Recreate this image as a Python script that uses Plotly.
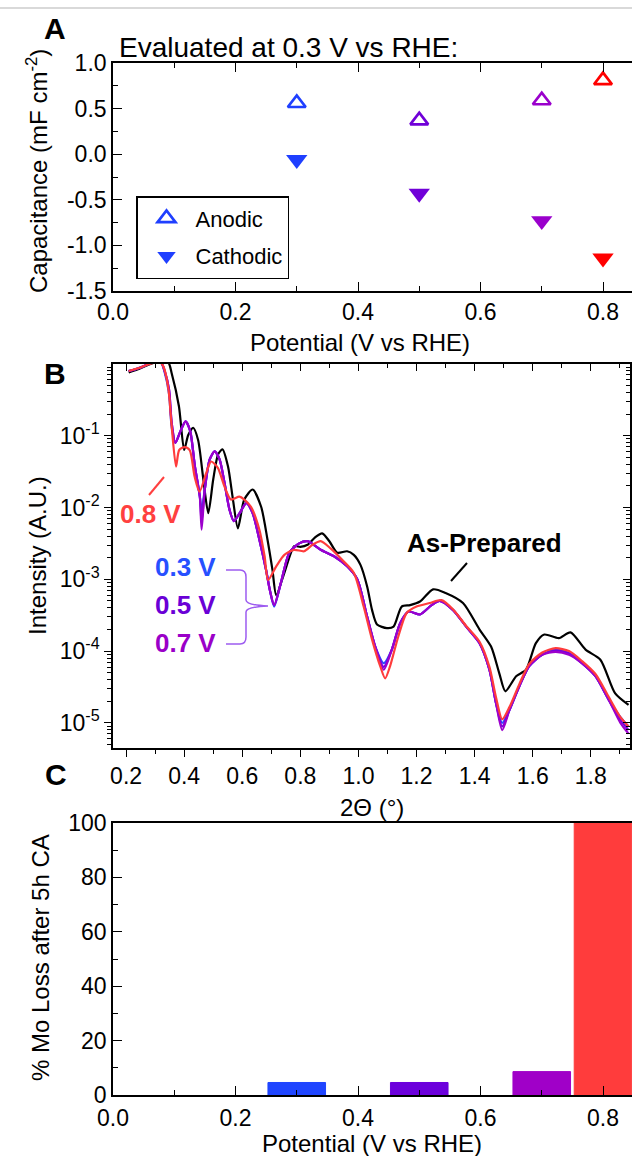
import plotly.graph_objects as go

W, H = 632, 1156
FONT = "Liberation Sans, Arial, sans-serif"

# ---------------- Panel A data ----------------
potential_v = [0.3, 0.5, 0.7, 0.8]
anodic_cap = [0.56, 0.37, 0.59, 0.81]
cathodic_cap = [-0.06, -0.43, -0.73, -1.14]
point_colors = ["#1f3fff", "#7000d8", "#9a00cc", "#ff0000"]

# ---------------- Panel B data (2-theta in deg, log10 intensity) ----------------
tt_asprep = [0.209, 0.25, 0.30, 0.345, 0.357, 0.382, 0.400, 0.414, 0.431, 0.448, 0.466, 0.483,
             0.500, 0.517, 0.532, 0.551, 0.568, 0.585, 0.607, 0.636, 0.665, 0.687, 0.704, 0.717,
             0.745, 0.779, 0.800, 0.825, 0.850, 0.875, 0.900, 0.927, 0.961, 0.984, 1.007, 1.030,
             1.047, 1.064, 1.098, 1.121, 1.149, 1.178, 1.212, 1.257, 1.300, 1.360, 1.417, 1.457,
             1.485, 1.506, 1.543, 1.577, 1.611, 1.640, 1.690, 1.730, 1.782, 1.833, 1.884, 1.930]
logI_asprep = [-0.12, -0.06, 0.02, 0.02, -0.13, -0.59, -1.20, -0.99, -0.89, -1.06, -1.61, -2.08,
               -1.61, -1.26, -1.19, -1.43, -1.89, -2.29, -1.89, -1.75, -1.99, -2.45, -2.87, -3.22,
               -2.91, -2.54, -2.55, -2.52, -2.42, -2.36, -2.47, -2.63, -2.61, -2.66, -2.80, -3.10,
               -3.43, -3.63, -3.68, -3.66, -3.38, -3.36, -3.31, -3.14, -3.19, -3.33, -3.70, -3.94,
               -4.31, -4.56, -4.35, -4.26, -3.89, -3.77, -3.82, -3.74, -3.98, -4.12, -4.59, -4.75]

tt_cycled = [0.209, 0.25, 0.29, 0.32, 0.333, 0.348, 0.357, 0.370, 0.387, 0.405, 0.421, 0.437,
             0.454, 0.460, 0.471, 0.488, 0.505, 0.522, 0.539, 0.556, 0.571, 0.591, 0.614, 0.636,
             0.659, 0.682, 0.695, 0.710, 0.733, 0.762, 0.796, 0.825, 0.870, 0.916, 0.961, 0.996,
             1.030, 1.058, 1.087, 1.115, 1.144, 1.173, 1.212, 1.252, 1.280, 1.326, 1.371, 1.417,
             1.451, 1.474, 1.495, 1.520, 1.554, 1.588, 1.633, 1.679, 1.725, 1.770, 1.816, 1.862,
             1.902, 1.930]
logI_03V = [-0.10, -0.05, 0.02, 0.02, -0.12, -0.42, -0.88, -1.10, -0.94, -0.80, -0.94, -1.43,
            -1.85, -2.05, -1.75, -1.33, -1.22, -1.33, -1.66, -2.03, -2.19, -2.08, -1.94, -2.08,
            -2.45, -2.87, -3.15, -3.38, -3.05, -2.63, -2.50, -2.47, -2.59, -2.68, -2.82, -3.00,
            -3.52, -3.94, -4.17, -3.98, -3.61, -3.45, -3.49, -3.36, -3.30, -3.43, -3.66, -3.89,
            -4.26, -4.73, -5.00, -4.82, -4.49, -4.21, -4.05, -3.98, -4.03, -4.17, -4.35, -4.68,
            -4.92, -5.05]
logI_05V = [-0.10, -0.05, 0.02, 0.02, -0.10, -0.36, -0.82, -1.10, -0.94, -0.80, -0.94, -1.43,
            -1.85, -2.20, -1.75, -1.33, -1.22, -1.33, -1.66, -2.03, -2.19, -2.08, -1.94, -2.08,
            -2.45, -2.87, -3.15, -3.36, -3.05, -2.63, -2.50, -2.47, -2.59, -2.68, -2.82, -3.00,
            -3.52, -3.94, -4.22, -3.98, -3.61, -3.45, -3.49, -3.36, -3.30, -3.43, -3.66, -3.89,
            -4.26, -4.73, -5.05, -4.82, -4.49, -4.21, -4.05, -3.99, -4.03, -4.17, -4.35, -4.68,
            -4.96, -5.10]
logI_07V = [-0.10, -0.05, 0.02, 0.02, -0.10, -0.36, -0.82, -1.10, -0.94, -0.80, -0.94, -1.43,
            -1.85, -2.31, -1.75, -1.33, -1.22, -1.33, -1.66, -2.03, -2.19, -2.08, -1.94, -2.08,
            -2.45, -2.87, -3.15, -3.36, -3.05, -2.63, -2.50, -2.47, -2.59, -2.68, -2.82, -3.00,
            -3.52, -3.94, -4.26, -3.98, -3.61, -3.45, -3.49, -3.36, -3.30, -3.43, -3.66, -3.89,
            -4.26, -4.73, -5.10, -4.82, -4.49, -4.21, -4.05, -4.01, -4.05, -4.17, -4.35, -4.68,
            -5.00, -5.15]

tt_08V = [0.209, 0.25, 0.29, 0.32, 0.330, 0.346, 0.357, 0.372, 0.383, 0.402, 0.419, 0.436,
          0.453, 0.476, 0.493, 0.516, 0.539, 0.561, 0.590, 0.607, 0.630, 0.659, 0.677, 0.689,
          0.717, 0.745, 0.779, 0.813, 0.842, 0.870, 0.904, 0.944, 0.984, 1.018, 1.047, 1.075,
          1.092, 1.109, 1.137, 1.166, 1.200, 1.246, 1.286, 1.326, 1.371, 1.417, 1.451, 1.474,
          1.495, 1.520, 1.554, 1.588, 1.633, 1.679, 1.725, 1.770, 1.816, 1.862, 1.902, 1.930]
logI_08V = [-0.10, -0.05, 0.01, 0.01, -0.05, -0.36, -0.87, -1.43, -1.20, -1.16, -1.20, -1.57,
            -1.78, -1.52, -1.36, -1.45, -1.71, -1.89, -1.85, -1.89, -1.99, -2.31, -2.68, -3.01,
            -2.82, -2.66, -2.59, -2.61, -2.52, -2.47, -2.57, -2.73, -2.91, -3.38, -3.84, -4.21,
            -4.38, -4.21, -3.80, -3.47, -3.38, -3.33, -3.29, -3.42, -3.65, -3.87, -4.22, -4.65,
            -4.95, -4.78, -4.46, -4.18, -4.02, -3.96, -4.00, -4.14, -4.32, -4.64, -4.92, -5.05]

# ---------------- Panel C data ----------------
mo_loss_pct = [4.6, 4.6, 8.6, 100]
bar_colors = ["#1f45ff", "#6c00dc", "#a000c8", "#ff3c3c"]

# y-axis tick labels (panel B)
log_tick_vals = [1e-5, 1e-4, 1e-3, 1e-2, 1e-1]
log_tick_text = ["10<sup>-5</sup>", "10<sup>-4</sup>", "10<sup>-3</sup>", "10<sup>-2</sup>", "10<sup>-1</sup>"]

# ---------------- helpers (pixel -> paper) ----------------
def px(x):
    return x / W

def py(y):
    return 1 - y / H

XDOM = [px(113), px(630)]
XDOM_FULL = [px(113), 1.0]
A_DOM = [py(291), py(63)]
B_DOM = [py(748), py(364)]
C_DOM = [py(1095), py(823)]

fig = go.Figure()

# Panel A
fig.add_trace(go.Scatter(
    x=potential_v, y=anodic_cap, mode="markers", name="Anodic",
    marker=dict(symbol="triangle-up-open", size=15.5, color=point_colors, line=dict(width=2.7)),
    xaxis="x", yaxis="y", legendgroup="a"))
fig.add_trace(go.Scatter(
    x=potential_v, y=cathodic_cap, mode="markers", name="Cathodic",
    marker=dict(symbol="triangle-down", size=18.5, color=point_colors, line=dict(width=0)),
    xaxis="x", yaxis="y", legendgroup="c"))

# Panel B
def I(vals):
    return [10 ** v for v in vals]

curves = [
    (tt_asprep, logI_asprep, "#000000", "As-Prepared"),
    (tt_cycled, logI_03V, "#2a4bff", "0.3 V"),
    (tt_cycled, logI_05V, "#7400e0", "0.5 V"),
    (tt_cycled, logI_07V, "#9c00cc", "0.7 V"),
    (tt_08V, logI_08V, "#ff3c3c", "0.8 V"),
]
for xs, ys, col, nm in curves:
    fig.add_trace(go.Scatter(x=xs, y=I(ys), mode="lines", name=nm, showlegend=False,
                             line=dict(color=col, width=2.2, shape="spline", smoothing=0.7),
                             xaxis="x2", yaxis="y2"))
# helper traces so the mirror (top / right) axes of panel B exist
fig.add_trace(go.Scatter(x=[None], y=[None], xaxis="x4", yaxis="y2", showlegend=False, hoverinfo="skip"))
fig.add_trace(go.Scatter(x=[None], y=[None], xaxis="x2", yaxis="y4", showlegend=False, hoverinfo="skip"))

# Panel C
fig.add_trace(go.Bar(x=potential_v, y=mo_loss_pct, width=0.094, showlegend=False,
                     marker=dict(color=bar_colors, line=dict(color=bar_colors, width=1)),
                     xaxis="x3", yaxis="y3"))

tickfont = dict(family=FONT, size=23, color="black")
common = dict(showline=True, linecolor="black", linewidth=1.6, tickcolor="black", tickwidth=1.4,
              showgrid=False, zeroline=False, tickfont=tickfont, automargin=False)

minor_log = [m * 10 ** d for d in range(-6, 0) for m in range(2, 10)]
AC_RANGE = [0, (632 - 113) / 612.5]

fig.update_layout(
    width=W, height=H, margin=dict(l=0, r=0, t=0, b=0),
    paper_bgcolor="white", plot_bgcolor="white",
    font=dict(family=FONT, color="black"),
    xaxis=dict(domain=XDOM_FULL, anchor="y", range=AC_RANGE, tick0=0, dtick=0.2, tickformat=".1f",
               ticks="inside", ticklen=9, mirror="ticks",
               minor=dict(dtick=0.1, ticks="inside", ticklen=5, tickcolor="black", showgrid=False), **common),
    yaxis=dict(domain=A_DOM, anchor="x", range=[-1.5, 1.0], tickvals=[-1.5, -1.0, -0.5, 0.0, 0.5, 1.0],
               ticktext=["-1.5", "-1.0", "-0.5", "0.0", "0.5", "1.0"],
               ticks="inside", ticklen=9, mirror=False,
               minor=dict(tickvals=[-1.25, -0.75, -0.25, 0.25, 0.75], ticks="inside", ticklen=5,
                          tickcolor="black", showgrid=False), **common),
    xaxis2=dict(domain=XDOM, anchor="y2", range=[0.155, 1.935], tick0=0, dtick=0.2, tickformat=".1f",
                ticks="outside", ticklen=7,
                minor=dict(dtick=0.1, ticks="outside", ticklen=4, tickcolor="black", showgrid=False), **common),
    xaxis4=dict(domain=XDOM, anchor="y2", overlaying="x2", side="top", range=[0.155, 1.935], tick0=0,
                dtick=0.2, ticks="inside", ticklen=7, showticklabels=False,
                minor=dict(dtick=0.1, ticks="inside", ticklen=4, tickcolor="black", showgrid=False), **common),
    yaxis2=dict(domain=B_DOM, anchor="x2", type="log", range=[-5.35, -0.002],
                tickvals=log_tick_vals, ticktext=log_tick_text, ticks="outside", ticklen=7,
                minor=dict(tickvals=minor_log, ticks="outside", ticklen=4, tickcolor="black", showgrid=False), **common),
    yaxis4=dict(domain=B_DOM, anchor="x2", overlaying="y2", side="right", type="log", range=[-5.35, -0.002],
                tickvals=log_tick_vals, ticks="inside", ticklen=7, showticklabels=False,
                minor=dict(tickvals=minor_log, ticks="inside", ticklen=4, tickcolor="black", showgrid=False), **common),
    xaxis3=dict(domain=XDOM_FULL, anchor="y3", range=AC_RANGE, tick0=0, dtick=0.2, tickformat=".1f",
                ticks="inside", ticklen=9, mirror=True, ticklabelstandoff=2,
                minor=dict(dtick=0.1, ticks="inside", ticklen=5, tickcolor="black", showgrid=False), **common),
    yaxis3=dict(domain=C_DOM, anchor="x3", range=[0, 100], tick0=0, dtick=20,
                ticks="inside", ticklen=9, mirror=False,
                minor=dict(dtick=10, ticks="inside", ticklen=5, tickcolor="black", showgrid=False), **common),
    legend=dict(x=px(136), y=py(196), xanchor="left", yanchor="top", bgcolor="white",
                bordercolor="black", borderwidth=1.5, font=dict(family=FONT, size=22, color="black"),
                traceorder="grouped", tracegroupgap=6, itemwidth=48),
    showlegend=True,
)

ann = []
def text(x, y, s, size, bold=False, color="black", angle=0, xanchor="center"):
    ann.append(dict(x=px(x), y=py(y), xref="paper", yref="paper", text=("<b>%s</b>" % s) if bold else s,
                    showarrow=False, textangle=angle, xanchor=xanchor, yanchor="middle",
                    font=dict(family=FONT, size=size, color=color)))

text(55, 28, "A", 30, bold=True)
text(55, 374, "B", 30, bold=True)
text(56, 774, "C", 30, bold=True)
text(117, 47, "Evaluated at 0.3 V vs RHE:", 28, xanchor="left")
text(37, 171, "Capacitance (mF cm<sup>-2</sup>)", 24, angle=-90)
text(360, 343, "Potential (V vs RHE)", 24)
text(37, 556, "Intensity (A.U.)", 24, angle=-90)
text(372, 807, "2Θ (°)", 24)
text(40, 958, "% Mo Loss after 5h CA", 24, angle=-90)
text(372, 1143, "Potential (V vs RHE)", 24)
text(484, 543, "As-Prepared", 26, bold=True)
text(150, 514, "0.8 V", 26, bold=True, color="#ff4040")
text(185, 567, "0.3 V", 26, bold=True, color="#2750ff")
text(185, 605, "0.5 V", 26, bold=True, color="#6a00d6")
text(185, 643, "0.7 V", 26, bold=True, color="#9a00c8")

shapes = [
    dict(type="line", xref="paper", yref="paper", x0=0, x1=1, y0=py(8), y1=py(8),
         line=dict(color="#cccccc", width=1.5)),
    dict(type="line", xref="paper", yref="paper", x0=px(467), y0=py(563), x1=px(451), y1=py(581),
         line=dict(color="black", width=2)),
    dict(type="line", xref="paper", yref="paper", x0=px(164), y0=py(477), x1=px(149), y1=py(495),
         line=dict(color="#ff4040", width=2)),
]
pts = [("M", 226, 570), ("L", 240, 570), ("Q", 246, 570, 246, 577), ("L", 246, 600),
       ("Q", 246, 605, 268, 606), ("Q", 246, 607, 246, 612), ("L", 246, 637),
       ("Q", 246, 644, 240, 644), ("L", 226, 644)]
path = ""
for p in pts:
    cmd = p[0]
    coords = p[1:]
    s = []
    for i in range(0, len(coords), 2):
        s.append("%.5f,%.5f" % (px(coords[i]), py(coords[i + 1])))
    path += cmd + " " + " ".join(s) + " "
shapes.append(dict(type="path", xref="paper", yref="paper", path=path.strip(),
                   line=dict(color="#9d5cf0", width=1.5)))

fig.update_layout(annotations=ann, shapes=shapes)
fig.write_html("out.html")
